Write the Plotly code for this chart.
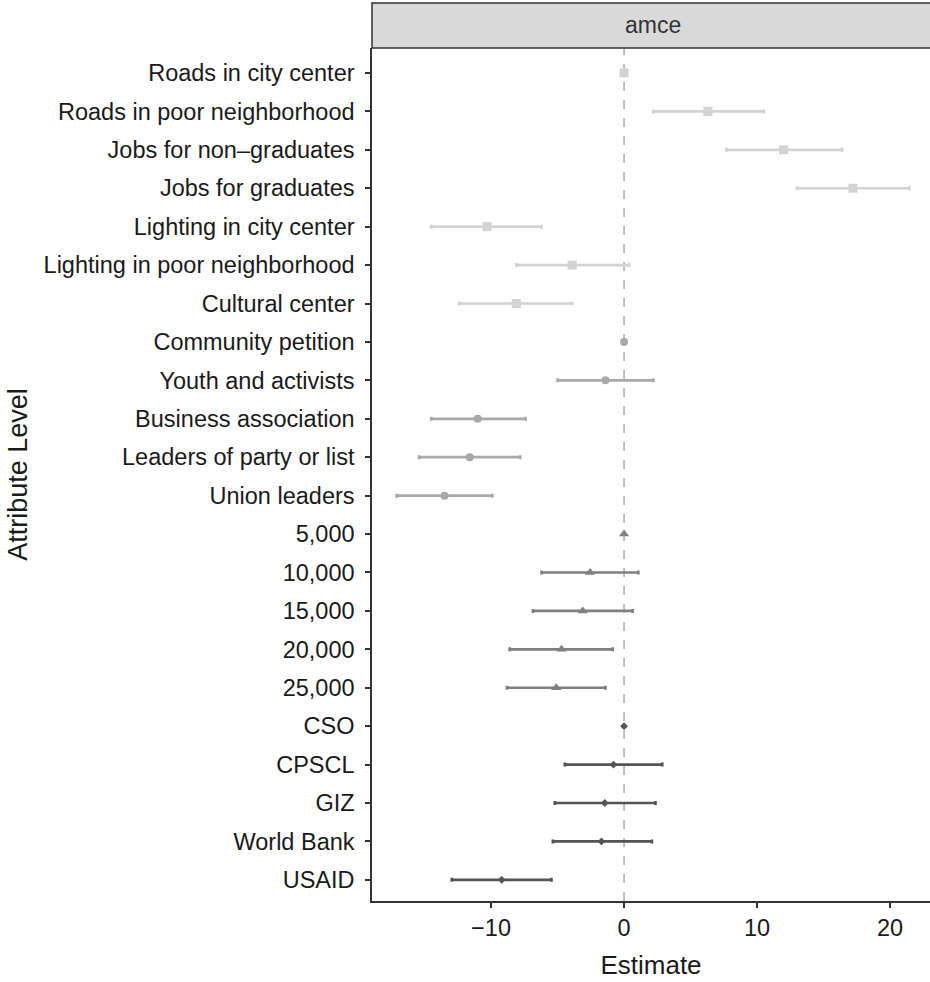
import plotly.graph_objects as go

levels_project = ["Roads in city center", "Roads in poor neighborhood", "Jobs for non\u2013graduates",
                  "Jobs for graduates", "Lighting in city center", "Lighting in poor neighborhood",
                  "Cultural center"]
est_project = [0, 6.3, 12.0, 17.2, -10.3, -3.9, -8.1]
lo_project = [0, 2.2, 7.7, 13.0, -14.5, -8.1, -12.4]
hi_project = [0, 10.5, 16.4, 21.45, -6.2, 0.4, -3.9]

levels_req = ["Community petition", "Youth and activists", "Business association",
              "Leaders of party or list", "Union leaders"]
est_req = [0, -1.4, -11.0, -11.6, -13.5]
lo_req = [0, -5.0, -14.5, -15.4, -17.1]
hi_req = [0, 2.2, -7.4, -7.8, -9.9]

levels_num = ["5,000", "10,000", "15,000", "20,000", "25,000"]
est_num = [0, -2.55, -3.1, -4.7, -5.1]
lo_num = [0, -6.2, -6.85, -8.6, -8.8]
hi_num = [0, 1.07, 0.64, -0.86, -1.4]

levels_spon = ["CSO", "CPSCL", "GIZ", "World Bank", "USAID"]
est_spon = [0, -0.8, -1.45, -1.7, -9.2]
lo_spon = [0, -4.45, -5.2, -5.35, -12.95]
hi_spon = [0, 2.87, 2.36, 2.09, -5.46]

groups = [
    (levels_project, est_project, lo_project, hi_project, "#d3d3d3", "square", 9),
    (levels_req, est_req, lo_req, hi_req, "#a9a9a9", "circle", 8),
    (levels_num, est_num, lo_num, hi_num, "#808080", "triangle-up", 9),
    (levels_spon, est_spon, lo_spon, hi_spon, "#555555", "diamond", 6),
]

all_levels = levels_project + levels_req + levels_num + levels_spon

FONT = "Liberation Sans, Arial, Helvetica, sans-serif"

fig = go.Figure()
fig.add_shape(type="line", xref="x", yref="paper", x0=0, x1=0, y0=0, y1=1,
              line=dict(color="#a0a0a0", width=1.3, dash="dash"), layer="below")

for lv, est, lo, hi, col, sym, sz in groups:
    fig.add_trace(go.Scatter(
        x=est, y=lv, mode="markers",
        marker=dict(color=col, symbol=sym, size=sz, line=dict(width=0)),
        error_x=dict(type="data", symmetric=False,
                     array=[h - e for e, h in zip(est, hi)],
                     arrayminus=[e - l for e, l in zip(est, lo)],
                     color=col, thickness=2.7, width=2),
        showlegend=False, hoverinfo="skip"))

W, H = 930, 982
left, right, top, bottom = 372, 0, 48, 81
ph = H - top - bottom
pw = W - left - right
# facet strip
fig.add_shape(type="rect", xref="paper", yref="paper", x0=0, x1=1.02,
              y0=1, y1=1 + 45 / ph, fillcolor="#d9d9d9",
              line=dict(color="#333333", width=1.5))
fig.add_annotation(text="amce", xref="paper", yref="paper", x=(653 - left) / pw, y=1 + 23 / ph,
                   showarrow=False, font=dict(size=23, color="#333333", family=FONT),
                   xanchor="center", yanchor="middle")

fig.update_layout(
    width=W, height=H,
    margin=dict(l=left, r=right, t=top, b=bottom),
    paper_bgcolor="white", plot_bgcolor="white",
    font=dict(family=FONT, color="#1a1a1a"),
    xaxis=dict(range=[-18.95, 23.0], tickvals=[-10, 0, 10, 20],
               ticktext=["\u221210", "0", "10", "20"],
               showgrid=False, zeroline=False, showline=True, linecolor="#333333", linewidth=1.5,
               ticks="outside", ticklen=5, tickwidth=1.5, tickcolor="#333333",
               tickfont=dict(size=23.5, color="#1a1a1a"),
               title=dict(text="Estimate", font=dict(size=26, color="#1a1a1a"), standoff=16)),
    yaxis=dict(type="category", categoryorder="array", categoryarray=all_levels,
               range=[len(all_levels) - 1 + 0.55, -0.65],
               showgrid=False, zeroline=False, showline=True, linecolor="#333333", linewidth=1.5,
               ticks="outside", ticklen=5, tickwidth=1.5, tickcolor="#333333",
               ticklabelstandoff=6,
               tickfont=dict(size=23.5, color="#1a1a1a"),
               title=dict(text="Attribute Level", font=dict(size=27, color="#1a1a1a"), standoff=8)),
)

fig.write_html("out.html")
